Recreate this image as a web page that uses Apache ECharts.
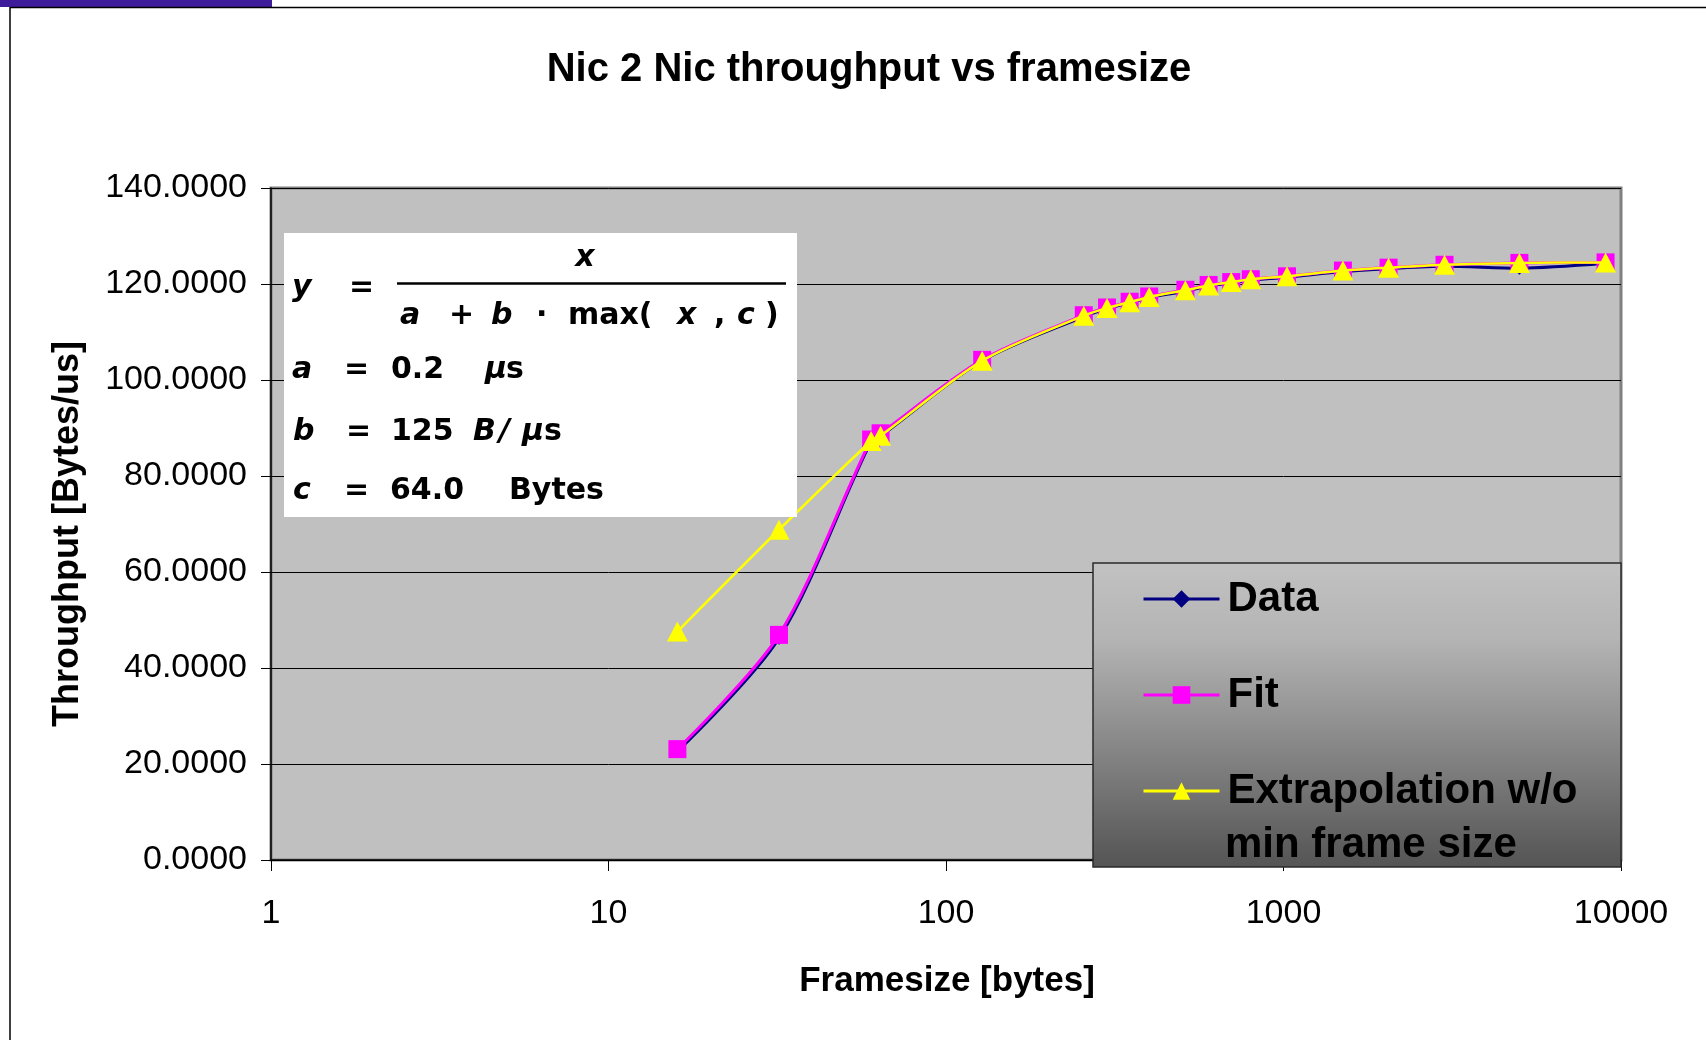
<!DOCTYPE html>
<html>
<head>
<meta charset="utf-8">
<script src="https://cdn.jsdelivr.net/npm/echarts@6/dist/echarts.min.js"></script>
<style>
html,body{margin:0;padding:0;background:#fff;}
#chart{width:1706px;height:1040px;}
</style>
</head>
<body>
<div id="chart"></div>
<script>
// ---- data ----
const frameSizes = [16, 32, 60, 64, 128, 256, 300, 350, 400, 512, 600, 700, 800, 1024, 1500, 2048, 3000, 5000, 9000];
const dataValues = [22.6, 46.2, 87.2, 88.3, 104.0, 113.2, 114.9, 116.1, 117.2, 118.5, 119.6, 120.2, 120.8, 121.4, 122.6, 123.2, 123.7, 123.3, 124.3];
const fitValues  = [23.1, 46.9, 87.6, 88.9, 104.2, 113.5, 115.1, 116.3, 117.4, 118.8, 119.8, 120.4, 121.0, 121.6, 122.8, 123.4, 124.0, 124.4, 124.5];
const extrapValues = [47.6, 68.8, 87.3, 88.4, 104.0, 113.4, 115.0, 116.2, 117.3, 118.7, 119.7, 120.4, 121.0, 121.6, 122.8, 123.4, 124.0, 124.4, 124.5];
const seriesNames = ['Data', 'Fit', 'Extrapolation w/o'];
const xTickValues = [1, 10, 100, 1000, 10000];
const yTickValues = [0, 20, 40, 60, 80, 100, 120, 140];

const pairs = vals => frameSizes.map((x, i) => [x, vals[i]]);

const chart = echarts.init(document.getElementById('chart'));
const F = '"Liberation Sans", Arial, sans-serif';
const V = '"DejaVu Sans", Verdana, sans-serif';
const FS = 30;

function ftxt(t, x, y, italic, align) {
  return {
    type: 'text', x: x, y: y, z: 11,
    style: {
      text: t, fill: '#000', textAlign: align || 'left', textVerticalAlign: 'middle',
      font: (italic ? 'italic ' : '') + 'bold ' + FS + 'px ' + V
    }
  };
}

const option = {
  animation: false,
  backgroundColor: '#fff',
  title: {
    text: 'Nic 2 Nic throughput vs framesize',
    left: 869, top: 50, textAlign: 'center', padding: 0,
    textStyle: { fontFamily: F, fontWeight: 'bold', fontSize: 40, color: '#000', lineHeight: 40 }
  },
  grid: {
    left: 271, right: 85, top: 188, bottom: 180,
    show: true, backgroundColor: '#c0c0c0', borderColor: '#808080', borderWidth: 3
  },
  xAxis: {
    type: 'log', logBase: 10, min: 1, max: 10000,
    axisLine: { show: true, lineStyle: { color: '#000', width: 1.5 } },
    axisTick: { show: true, length: 11, lineStyle: { color: '#000', width: 1 } },
    minorTick: { show: false },
    splitLine: { show: false },
    axisLabel: {
      fontFamily: F, fontSize: 34, color: '#000', margin: 37,
      formatter: v => (xTickValues.indexOf(Math.round(v)) >= 0 ? String(Math.round(v)) : '')
    }
  },
  yAxis: {
    type: 'value', min: 0, max: 140, interval: 20,
    axisLine: { show: true, lineStyle: { color: '#000', width: 1.5 } },
    axisTick: { show: true, length: 10, lineStyle: { color: '#000', width: 1 } },
    splitLine: { show: true, lineStyle: { color: '#000', width: 1 } },
    axisLabel: {
      fontFamily: F, fontSize: 34, color: '#000', margin: 24, padding: [4, 0, 0, 0],
      formatter: v => (yTickValues.indexOf(v) >= 0 ? v.toFixed(4) : '')
    }
  },
  legend: {
    show: true, orient: 'vertical', left: 1142, top: 578, padding: 0,
    itemWidth: 76, itemHeight: 22, itemGap: 54, z: 20,
    data: seriesNames,
    lineStyle: { width: 3 },
    textStyle: { fontFamily: F, fontWeight: 'bold', fontSize: 42, color: '#000', padding: [0, 0, 0, 3] }
  },
  series: [
    {
      name: seriesNames[0], type: 'line', data: pairs(dataValues), z: 3,
      smooth: 0.3, showAllSymbol: true, symbol: 'diamond', symbolSize: 13,
      lineStyle: { color: '#000080', width: 3 }, itemStyle: { color: '#000080' }
    },
    {
      name: seriesNames[1], type: 'line', data: pairs(fitValues), z: 4,
      smooth: 0.3, showAllSymbol: true, symbol: 'rect', symbolSize: 18,
      lineStyle: { color: '#ff00ff', width: 3 }, itemStyle: { color: '#ff00ff' }
    },
    {
      name: seriesNames[2], type: 'line', data: pairs(extrapValues), z: 5,
      smooth: 0.3, showAllSymbol: true, symbol: 'triangle', symbolSize: [21, 20],
      lineStyle: { color: '#ffff00', width: 2.5 }, itemStyle: { color: '#ffff00' }
    }
  ],
  graphic: [
    // page frame
    { type: 'rect', z: 30, shape: { x: 0, y: 0, width: 272, height: 7 }, style: { fill: '#3f1c9c' } },
    { type: 'line', z: 30, shape: { x1: 10, y1: 7.5, x2: 1706, y2: 7.5 }, style: { stroke: '#000', lineWidth: 1.5 } },
    { type: 'line', z: 30, shape: { x1: 10, y1: 7, x2: 10, y2: 1040 }, style: { stroke: '#000', lineWidth: 1.5 } },
    // axis titles
    { type: 'text', x: 68, y: 534, rotation: Math.PI / 2, z: 11,
      style: { text: 'Throughput [Bytes/us]', textAlign: 'center', textVerticalAlign: 'middle', fill: '#000', font: 'bold 36px ' + F } },
    { type: 'text', x: 947, y: 981, z: 11,
      style: { text: 'Framesize [bytes]', textAlign: 'center', textVerticalAlign: 'middle', fill: '#000', font: 'bold 35px ' + F } },
    // formula box
    { type: 'rect', z: 10, shape: { x: 284, y: 233, width: 513, height: 284 }, style: { fill: '#fff' } },
    { type: 'line', z: 11, shape: { x1: 397, y1: 283.5, x2: 786, y2: 283.5 }, style: { stroke: '#000', lineWidth: 2.5 } },
    ftxt('y', 292, 288, true),
    ftxt('=', 349, 288, false),
    ftxt('x', 585, 258, true, 'center'),
    ftxt('a', 400, 316, true),
    ftxt('+', 449, 316, false),
    ftxt('b', 491, 316, true),
    ftxt('·', 536, 316, false),
    ftxt('max(', 568, 316, false),
    ftxt('x', 677, 316, true),
    ftxt(',', 714, 316, false),
    ftxt('c', 737, 316, true),
    ftxt(')', 765, 316, false),
    ftxt('a', 292, 370, true),
    ftxt('=', 344, 370, false),
    ftxt('0.2', 391, 370, false),
    ftxt('µ', 485, 370, true),
    ftxt('s', 506, 370, false),
    ftxt('b', 293, 432, true),
    ftxt('=', 346, 432, false),
    ftxt('125', 391, 432, false),
    ftxt('B', 473, 432, true),
    ftxt('/', 499, 432, true),
    ftxt('µ', 522, 432, true),
    ftxt('s', 544, 432, false),
    ftxt('c', 293, 491, true),
    ftxt('=', 344, 491, false),
    ftxt('64.0', 390, 491, false),
    ftxt('Bytes', 509, 491, false),
    // legend box
    { type: 'rect', z: 10, shape: { x: 1093, y: 563, width: 528, height: 304 },
      style: {
        fill: new echarts.graphic.LinearGradient(0, 0, 0, 1, [
          { offset: 0, color: '#c2c2c2' }, { offset: 0.25, color: '#b4b4b4' }, { offset: 1, color: '#545454' }
        ]),
        stroke: '#2a2a2a', lineWidth: 1.5
      } },
    { type: 'text', x: 1225, y: 845, z: 21,
      style: { text: 'min frame size', textAlign: 'left', textVerticalAlign: 'middle', fill: '#000', font: 'bold 42px ' + F } }
  ]
};
chart.setOption(option);
</script>
</body>
</html>
